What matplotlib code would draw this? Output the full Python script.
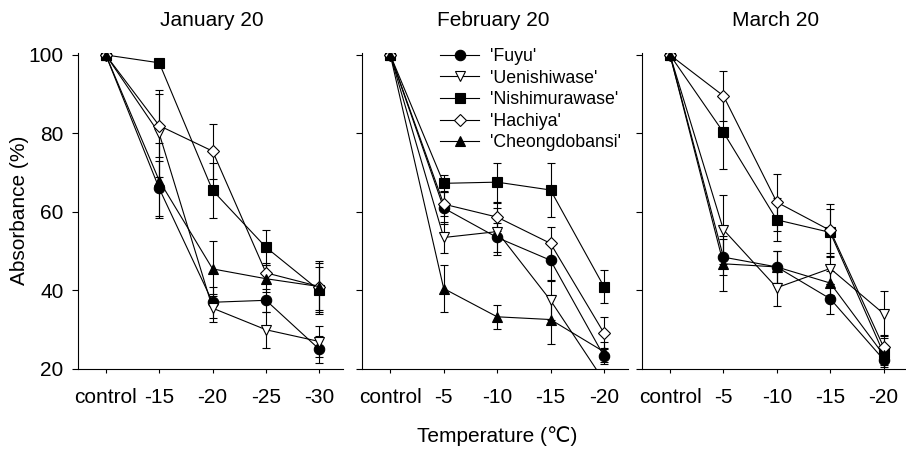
import matplotlib
matplotlib.use('Agg')
import matplotlib.pyplot as plt
from matplotlib.lines import Line2D

plt.rcParams['font.family'] = ['Liberation Sans', 'DejaVu Sans']

# ---------------- data ----------------
cultivars = ["'Fuyu'", "'Uenishiwase'", "'Nishimurawase'", "'Hachiya'", "'Cheongdobansi'"]
panel_titles = ['January 20', 'February 20', 'March 20']
jan_ticks = ['control', '-15', '-20', '-25', '-30']
feb_ticks = ['control', '-5', '-10', '-15', '-20']
mar_ticks = ['control', '-5', '-10', '-15', '-20']

# January 20
jan_fuyu = [100, 66, 37, 37.5, 25]
jan_ueni = [100, 80, 35.5, 30, 27]
jan_nishi = [100, 98, 65.5, 51, 40]
jan_hachiya = [100, 82, 75.5, 44.5, 41]
jan_cheong = [100, 68, 45.5, 43, 41]
jan_fuyu_err = [0, 7, 4, 3, 3.5]
jan_ueni_err = [0, 11, 3.5, 4.6, 4]
jan_nishi_err = [0, 1, 7, 4.5, 6]
jan_hachiya_err = [0, 8, 7, 2.5, 6.5]
jan_cheong_err = [0, 9.5, 7, 3.5, 6]

# February 20
feb_fuyu = [100, 61, 53.5, 47.7, 23.3]
feb_ueni = [100, 53.5, 55, 37.5, 17]
feb_nishi = [100, 67.3, 67.6, 65.6, 41]
feb_hachiya = [100, 62, 58.7, 52, 29.2]
feb_cheong = [100, 40.5, 33.3, 32.6, 24.4]
feb_fuyu_err = [0, 4, 3.8, 5, 2]
feb_ueni_err = [0, 4, 6, 5, 3]
feb_nishi_err = [0, 2, 5, 7, 4.2]
feb_hachiya_err = [0, 3, 3.5, 4.2, 4]
feb_cheong_err = [0, 6, 3, 6.3, 2.5]

# March 20
mar_fuyu = [100, 48.5, 46, 37.9, 22.4]
mar_ueni = [100, 55.5, 40.7, 45.6, 34.1]
mar_nishi = [100, 80.3, 58, 54.8, 24]
mar_hachiya = [100, 89.6, 62.5, 55.3, 25.6]
mar_cheong = [100, 46.8, 46, 41.9, 23.6]
mar_fuyu_err = [0, 4.5, 4, 3.8, 2]
mar_ueni_err = [0, 8.7, 4.7, 4, 5.8]
mar_nishi_err = [0, 9.3, 5.5, 6, 4]
mar_hachiya_err = [0, 6.3, 7.3, 6.8, 3]
mar_cheong_err = [0, 7, 4, 3, 2.5]

panels = [
    (jan_ticks, [jan_fuyu, jan_ueni, jan_nishi, jan_hachiya, jan_cheong],
     [jan_fuyu_err, jan_ueni_err, jan_nishi_err, jan_hachiya_err, jan_cheong_err]),
    (feb_ticks, [feb_fuyu, feb_ueni, feb_nishi, feb_hachiya, feb_cheong],
     [feb_fuyu_err, feb_ueni_err, feb_nishi_err, feb_hachiya_err, feb_cheong_err]),
    (mar_ticks, [mar_fuyu, mar_ueni, mar_nishi, mar_hachiya, mar_cheong],
     [mar_fuyu_err, mar_ueni_err, mar_nishi_err, mar_hachiya_err, mar_cheong_err]),
]

# ---------------- styles ----------------
styles = [
    dict(marker='o', ms=7.5, mfc='black'),
    dict(marker='v', ms=7.5, mfc='white'),
    dict(marker='s', ms=6.5, mfc='black'),
    dict(marker='D', ms=6.2, mfc='white'),
    dict(marker='^', ms=7.5, mfc='black'),
]

W, H = 906, 451
fig = plt.figure(figsize=(W / 100, H / 100), dpi=100)

ax_left_px = [77.5, 362, 641.7]
top_px, bottom_px = 53, 369
xlim = (-0.53, 4.45)
width_px = (xlim[1] - xlim[0]) * 53.4

axes = []
for i, (ticks, series, errs) in enumerate(panels):
    ax = fig.add_axes([ax_left_px[i] / W, 1 - bottom_px / H,
                       width_px / W, (bottom_px - top_px) / H])
    axes.append(ax)
    x = list(range(len(ticks)))
    for vals, err, st in zip(series, errs, styles):
        ax.errorbar(x, vals, yerr=err, color='black', lw=0.8,
                    elinewidth=0.8, capsize=3, capthick=0.8,
                    marker=st['marker'], ms=st['ms'], mfc=st['mfc'],
                    mec='black', mew=0.8)
    ax.set_xlim(*xlim)
    ax.set_ylim(20, 100.5)
    ax.set_xticks(x)
    ax.set_xticklabels(ticks)
    ax.set_yticks([20, 40, 60, 80, 100])
    if i > 0:
        ax.set_yticklabels([])
    for s in ['top', 'right']:
        ax.spines[s].set_visible(False)
    for s in ['left', 'bottom']:
        ax.spines[s].set_linewidth(0.8)
    ax.tick_params(axis='x', length=3, width=0.8, pad=11, labelsize=15)
    ax.tick_params(axis='y', length=4, width=0.8, pad=6, labelsize=15)

# titles
title_x = [212, 493, 776]
for tx, t in zip(title_x, panel_titles):
    fig.text(tx / W, 1 - 26 / H, t, ha='center', va='baseline', fontsize=15)

fig.text(20 / W, 1 - 210 / H, 'Absorbance (%)', rotation=90,
         ha='center', va='center', fontsize=15)
fig.text(497 / W, 1 - 442 / H, 'Temperature (\u2103)', ha='center',
         va='baseline', fontsize=15)

handles = [Line2D([], [], color='black', lw=0.8, marker=st['marker'],
                  ms=st['ms'], mfc=st['mfc'], mec='black', mew=0.8)
           for st in styles]
fig.legend(handles, cultivars, loc='upper left',
           bbox_to_anchor=(440 / W, 1 - 48 / H),
           frameon=False, borderpad=0, borderaxespad=0,
           handlelength=2.2, handletextpad=0.6, labelspacing=0.26,
           fontsize=12.8)

fig.savefig('out.png', dpi=100)
